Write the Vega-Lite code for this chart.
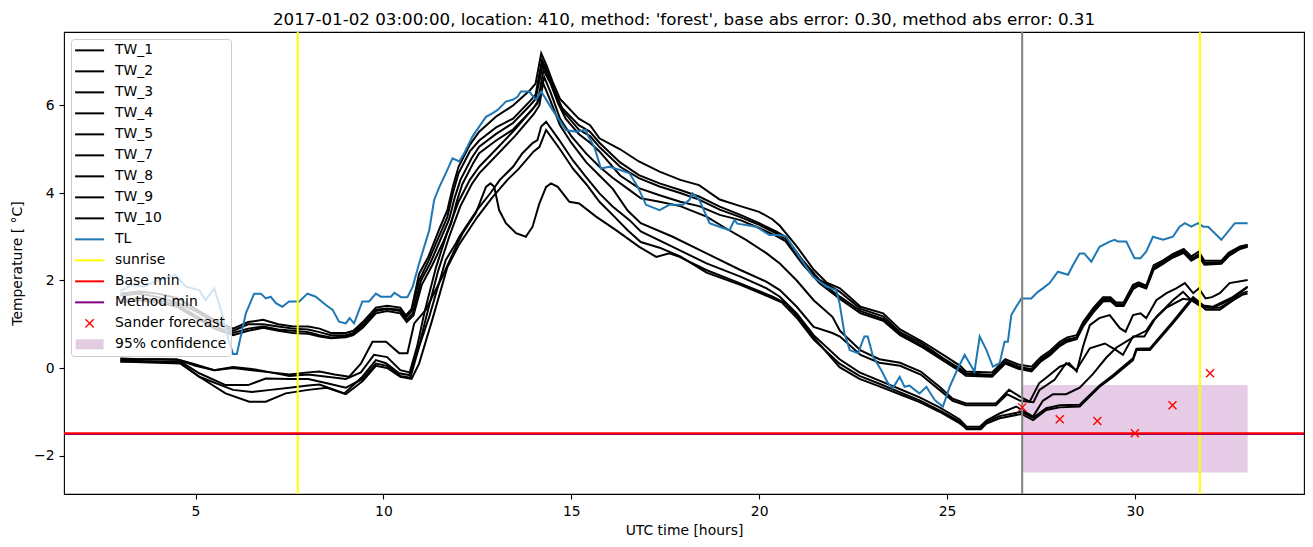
{
"$schema": "https://vega.github.io/schema/vega-lite/v6.json",
"width": 1240, "height": 462,
"autosize": {"type": "none"},
"padding": {"left": 64, "top": 32, "right": 9, "bottom": 53},
"background": "white",
"title": {"text": "2017-01-02 03:00:00, location: 410, method: 'forest', base abs error: 0.30, method abs error: 0.31", "font": "DejaVu Sans", "fontSize": 16.7, "fontWeight": "normal", "color": "black", "anchor": "middle", "frame": "group", "baseline": "alphabetic", "offset": -11},
"datasets": {
"tw": [
{"s":"TW_1","h":3,"T":1.7},{"s":"TW_1","h":3.5,"T":1.75},{"s":"TW_1","h":4,"T":1.7},{"s":"TW_1","h":4.5,"T":1.6},{"s":"TW_1","h":5,"T":1.35},{"s":"TW_1","h":5.5,"T":1.1},{"s":"TW_1","h":6,"T":0.9},{"s":"TW_1","h":6.4,"T":1.05},{"s":"TW_1","h":6.8,"T":1.1},{"s":"TW_1","h":7.2,"T":1.0},{"s":"TW_1","h":7.6,"T":0.95},{"s":"TW_1","h":8,"T":0.95},{"s":"TW_1","h":8.3,"T":0.9},{"s":"TW_1","h":8.6,"T":0.8},{"s":"TW_1","h":9,"T":0.8},{"s":"TW_1","h":9.2,"T":0.85},{"s":"TW_1","h":9.45,"T":1.05},{"s":"TW_1","h":9.8,"T":1.38},{"s":"TW_1","h":10.1,"T":1.42},{"s":"TW_1","h":10.45,"T":1.38},{"s":"TW_1","h":10.6,"T":1.2},{"s":"TW_1","h":10.75,"T":1.35},{"s":"TW_1","h":10.95,"T":2.15},{"s":"TW_1","h":11.2,"T":2.55},{"s":"TW_1","h":11.5,"T":3.2},{"s":"TW_1","h":11.7,"T":3.6},{"s":"TW_1","h":11.85,"T":4.15},{"s":"TW_1","h":12,"T":4.6},{"s":"TW_1","h":12.3,"T":5.1},{"s":"TW_1","h":12.55,"T":5.4},{"s":"TW_1","h":13,"T":5.75},{"s":"TW_1","h":13.45,"T":6.0},{"s":"TW_1","h":13.9,"T":6.35},{"s":"TW_1","h":14.05,"T":6.5},{"s":"TW_1","h":14.2,"T":7.19},{"s":"TW_1","h":14.35,"T":6.9},{"s":"TW_1","h":14.5,"T":6.55},{"s":"TW_1","h":14.7,"T":6.15},{"s":"TW_1","h":15.2,"T":5.7},{"s":"TW_1","h":15.5,"T":5.55},{"s":"TW_1","h":15.75,"T":5.25},{"s":"TW_1","h":16.3,"T":5.0},{"s":"TW_1","h":16.8,"T":4.72},{"s":"TW_1","h":17.35,"T":4.49},{"s":"TW_1","h":17.9,"T":4.3},{"s":"TW_1","h":18.4,"T":4.18},{"s":"TW_1","h":18.95,"T":3.85},{"s":"TW_1","h":19.5,"T":3.7},{"s":"TW_1","h":20,"T":3.57},{"s":"TW_1","h":20.35,"T":3.4},{"s":"TW_1","h":20.55,"T":3.25},{"s":"TW_1","h":21,"T":2.78},{"s":"TW_1","h":21.45,"T":2.25},{"s":"TW_1","h":21.8,"T":1.95},{"s":"TW_1","h":22.15,"T":1.82},{"s":"TW_1","h":22.7,"T":1.4},{"s":"TW_1","h":23.3,"T":1.25},{"s":"TW_1","h":23.75,"T":0.88},{"s":"TW_1","h":24.35,"T":0.6},{"s":"TW_1","h":24.9,"T":0.3},{"s":"TW_1","h":25.35,"T":0.05},{"s":"TW_1","h":25.5,"T":-0.08},{"s":"TW_1","h":26.2,"T":-0.1},{"s":"TW_1","h":26.55,"T":0.2},{"s":"TW_1","h":26.9,"T":0.08},{"s":"TW_1","h":27.25,"T":0.03},{"s":"TW_1","h":27.5,"T":0.25},{"s":"TW_1","h":27.75,"T":0.4},{"s":"TW_1","h":28,"T":0.6},{"s":"TW_1","h":28.2,"T":0.7},{"s":"TW_1","h":28.45,"T":0.75},{"s":"TW_1","h":28.62,"T":1.05},{"s":"TW_1","h":28.9,"T":1.38},{"s":"TW_1","h":29.15,"T":1.62},{"s":"TW_1","h":29.35,"T":1.62},{"s":"TW_1","h":29.5,"T":1.5},{"s":"TW_1","h":29.7,"T":1.5},{"s":"TW_1","h":29.95,"T":1.9},{"s":"TW_1","h":30.1,"T":1.96},{"s":"TW_1","h":30.3,"T":1.88},{"s":"TW_1","h":30.5,"T":2.35},{"s":"TW_1","h":30.75,"T":2.46},{"s":"TW_1","h":31,"T":2.6},{"s":"TW_1","h":31.3,"T":2.72},{"s":"TW_1","h":31.5,"T":2.55},{"s":"TW_1","h":31.7,"T":2.66},{"s":"TW_1","h":31.85,"T":2.45},{"s":"TW_1","h":32.3,"T":2.45},{"s":"TW_1","h":32.5,"T":2.64},{"s":"TW_1","h":32.8,"T":2.78},{"s":"TW_1","h":33,"T":2.82},
{"s":"TW_2","h":3,"T":1.65},{"s":"TW_2","h":3.5,"T":1.7},{"s":"TW_2","h":4,"T":1.62},{"s":"TW_2","h":4.5,"T":1.5},{"s":"TW_2","h":5,"T":1.3},{"s":"TW_2","h":5.5,"T":1.05},{"s":"TW_2","h":6,"T":0.85},{"s":"TW_2","h":6.4,"T":1.0},{"s":"TW_2","h":6.8,"T":1.0},{"s":"TW_2","h":7.2,"T":0.95},{"s":"TW_2","h":7.6,"T":0.9},{"s":"TW_2","h":8,"T":0.88},{"s":"TW_2","h":8.3,"T":0.82},{"s":"TW_2","h":8.6,"T":0.75},{"s":"TW_2","h":9,"T":0.75},{"s":"TW_2","h":9.2,"T":0.8},{"s":"TW_2","h":9.45,"T":1.0},{"s":"TW_2","h":9.8,"T":1.33},{"s":"TW_2","h":10.1,"T":1.36},{"s":"TW_2","h":10.45,"T":1.33},{"s":"TW_2","h":10.6,"T":1.15},{"s":"TW_2","h":10.75,"T":1.3},{"s":"TW_2","h":10.95,"T":2.0},{"s":"TW_2","h":11.2,"T":2.45},{"s":"TW_2","h":11.5,"T":3.05},{"s":"TW_2","h":11.7,"T":3.45},{"s":"TW_2","h":11.85,"T":4.0},{"s":"TW_2","h":12,"T":4.45},{"s":"TW_2","h":12.3,"T":4.95},{"s":"TW_2","h":12.55,"T":5.2},{"s":"TW_2","h":13,"T":5.5},{"s":"TW_2","h":13.45,"T":5.7},{"s":"TW_2","h":13.9,"T":6.1},{"s":"TW_2","h":14.05,"T":6.25},{"s":"TW_2","h":14.22,"T":7.04},{"s":"TW_2","h":14.38,"T":6.75},{"s":"TW_2","h":14.55,"T":6.35},{"s":"TW_2","h":14.75,"T":5.95},{"s":"TW_2","h":15.2,"T":5.55},{"s":"TW_2","h":15.5,"T":5.4},{"s":"TW_2","h":15.75,"T":5.15},{"s":"TW_2","h":16.3,"T":4.7},{"s":"TW_2","h":16.8,"T":4.41},{"s":"TW_2","h":17.35,"T":4.22},{"s":"TW_2","h":17.9,"T":4.07},{"s":"TW_2","h":18.4,"T":3.92},{"s":"TW_2","h":18.95,"T":3.69},{"s":"TW_2","h":19.5,"T":3.5},{"s":"TW_2","h":20,"T":3.31},{"s":"TW_2","h":20.45,"T":3.12},{"s":"TW_2","h":20.7,"T":3.0},{"s":"TW_2","h":21.15,"T":2.47},{"s":"TW_2","h":21.6,"T":2.02},{"s":"TW_2","h":22.15,"T":1.74},{"s":"TW_2","h":22.7,"T":1.35},{"s":"TW_2","h":23.3,"T":1.18},{"s":"TW_2","h":23.75,"T":0.82},{"s":"TW_2","h":24.35,"T":0.55},{"s":"TW_2","h":24.9,"T":0.22},{"s":"TW_2","h":25.35,"T":-0.02},{"s":"TW_2","h":25.5,"T":-0.12},{"s":"TW_2","h":26.2,"T":-0.16},{"s":"TW_2","h":26.55,"T":0.15},{"s":"TW_2","h":26.9,"T":0.03},{"s":"TW_2","h":27.25,"T":-0.03},{"s":"TW_2","h":27.5,"T":0.2},{"s":"TW_2","h":27.75,"T":0.35},{"s":"TW_2","h":28,"T":0.55},{"s":"TW_2","h":28.2,"T":0.65},{"s":"TW_2","h":28.45,"T":0.7},{"s":"TW_2","h":28.62,"T":1.0},{"s":"TW_2","h":28.9,"T":1.33},{"s":"TW_2","h":29.15,"T":1.58},{"s":"TW_2","h":29.35,"T":1.58},{"s":"TW_2","h":29.5,"T":1.46},{"s":"TW_2","h":29.7,"T":1.46},{"s":"TW_2","h":29.95,"T":1.85},{"s":"TW_2","h":30.1,"T":1.93},{"s":"TW_2","h":30.3,"T":1.85},{"s":"TW_2","h":30.5,"T":2.3},{"s":"TW_2","h":30.75,"T":2.43},{"s":"TW_2","h":31,"T":2.57},{"s":"TW_2","h":31.3,"T":2.68},{"s":"TW_2","h":31.5,"T":2.5},{"s":"TW_2","h":31.7,"T":2.6},{"s":"TW_2","h":31.85,"T":2.4},{"s":"TW_2","h":32.3,"T":2.42},{"s":"TW_2","h":32.5,"T":2.6},{"s":"TW_2","h":32.8,"T":2.76},{"s":"TW_2","h":33,"T":2.8},
{"s":"TW_3","h":3,"T":0.22},{"s":"TW_3","h":3.5,"T":0.2},{"s":"TW_3","h":4,"T":0.2},{"s":"TW_3","h":4.6,"T":0.18},{"s":"TW_3","h":5,"T":0.08},{"s":"TW_3","h":5.5,"T":-0.05},{"s":"TW_3","h":6,"T":0.0},{"s":"TW_3","h":6.5,"T":-0.05},{"s":"TW_3","h":7,"T":-0.1},{"s":"TW_3","h":7.5,"T":-0.18},{"s":"TW_3","h":8,"T":-0.15},{"s":"TW_3","h":8.5,"T":-0.2},{"s":"TW_3","h":9,"T":-0.25},{"s":"TW_3","h":9.4,"T":-0.1},{"s":"TW_3","h":9.75,"T":0.3},{"s":"TW_3","h":10.1,"T":0.25},{"s":"TW_3","h":10.45,"T":-0.05},{"s":"TW_3","h":10.7,"T":-0.1},{"s":"TW_3","h":10.9,"T":0.5},{"s":"TW_3","h":11.1,"T":1.3},{"s":"TW_3","h":11.4,"T":2.3},{"s":"TW_3","h":11.7,"T":3.1},{"s":"TW_3","h":12,"T":3.8},{"s":"TW_3","h":12.3,"T":4.3},{"s":"TW_3","h":12.55,"T":4.6},{"s":"TW_3","h":13,"T":5.0},{"s":"TW_3","h":13.5,"T":5.45},{"s":"TW_3","h":14,"T":5.95},{"s":"TW_3","h":14.15,"T":6.15},{"s":"TW_3","h":14.28,"T":6.65},{"s":"TW_3","h":14.45,"T":6.3},{"s":"TW_3","h":14.7,"T":5.7},{"s":"TW_3","h":15,"T":5.3},{"s":"TW_3","h":15.4,"T":4.9},{"s":"TW_3","h":15.75,"T":4.6},{"s":"TW_3","h":16.1,"T":4.35},{"s":"TW_3","h":16.5,"T":4.1},{"s":"TW_3","h":16.85,"T":3.88},{"s":"TW_3","h":17.35,"T":3.8},{"s":"TW_3","h":17.9,"T":3.7},{"s":"TW_3","h":18.6,"T":3.46},{"s":"TW_3","h":19.1,"T":3.2},{"s":"TW_3","h":19.65,"T":2.93},{"s":"TW_3","h":20.2,"T":2.62},{"s":"TW_3","h":20.55,"T":2.39},{"s":"TW_3","h":21,"T":2.0},{"s":"TW_3","h":21.45,"T":1.55},{"s":"TW_3","h":21.95,"T":1.17},{"s":"TW_3","h":22.15,"T":0.85},{"s":"TW_3","h":22.7,"T":0.4},{"s":"TW_3","h":23.2,"T":0.2},{"s":"TW_3","h":23.75,"T":0.12},{"s":"TW_3","h":24.3,"T":-0.08},{"s":"TW_3","h":24.8,"T":-0.43},{"s":"TW_3","h":25.15,"T":-0.7},{"s":"TW_3","h":25.5,"T":-0.81},{"s":"TW_3","h":26.3,"T":-0.81},{"s":"TW_3","h":26.65,"T":-0.5},{"s":"TW_3","h":26.95,"T":-0.66},{"s":"TW_3","h":27.2,"T":-0.77},{"s":"TW_3","h":27.45,"T":-0.35},{"s":"TW_3","h":27.73,"T":-0.16},{"s":"TW_3","h":28,"T":0.03},{"s":"TW_3","h":28.25,"T":0.11},{"s":"TW_3","h":28.45,"T":-0.08},{"s":"TW_3","h":28.62,"T":0.49},{"s":"TW_3","h":28.8,"T":0.98},{"s":"TW_3","h":29.05,"T":1.14},{"s":"TW_3","h":29.33,"T":1.21},{"s":"TW_3","h":29.6,"T":0.91},{"s":"TW_3","h":29.75,"T":0.83},{"s":"TW_3","h":29.95,"T":1.21},{"s":"TW_3","h":30.15,"T":1.25},{"s":"TW_3","h":30.3,"T":1.14},{"s":"TW_3","h":30.57,"T":1.55},{"s":"TW_3","h":30.84,"T":1.71},{"s":"TW_3","h":31.1,"T":1.82},{"s":"TW_3","h":31.33,"T":1.94},{"s":"TW_3","h":31.55,"T":1.71},{"s":"TW_3","h":31.7,"T":1.82},{"s":"TW_3","h":31.88,"T":1.59},{"s":"TW_3","h":32.05,"T":1.62},{"s":"TW_3","h":32.26,"T":1.71},{"s":"TW_3","h":32.52,"T":1.94},{"s":"TW_3","h":33,"T":2.01},
{"s":"TW_4","h":3,"T":0.18},{"s":"TW_4","h":4.6,"T":0.12},{"s":"TW_4","h":5.1,"T":-0.2},{"s":"TW_4","h":6,"T":-0.5},{"s":"TW_4","h":6.5,"T":-0.55},{"s":"TW_4","h":7,"T":-0.5},{"s":"TW_4","h":7.5,"T":-0.45},{"s":"TW_4","h":8,"T":-0.4},{"s":"TW_4","h":8.3,"T":-0.38},{"s":"TW_4","h":8.96,"T":-0.58},{"s":"TW_4","h":9.44,"T":-0.2},{"s":"TW_4","h":9.8,"T":0.18},{"s":"TW_4","h":10.07,"T":0.11},{"s":"TW_4","h":10.42,"T":-0.12},{"s":"TW_4","h":10.69,"T":-0.16},{"s":"TW_4","h":10.86,"T":0.26},{"s":"TW_4","h":11.22,"T":1.17},{"s":"TW_4","h":11.66,"T":2.47},{"s":"TW_4","h":11.93,"T":2.85},{"s":"TW_4","h":12.02,"T":3.0},{"s":"TW_4","h":12.5,"T":3.62},{"s":"TW_4","h":12.85,"T":4.0},{"s":"TW_4","h":13.1,"T":4.3},{"s":"TW_4","h":13.45,"T":4.6},{"s":"TW_4","h":13.7,"T":4.91},{"s":"TW_4","h":13.97,"T":5.14},{"s":"TW_4","h":14.1,"T":5.21},{"s":"TW_4","h":14.2,"T":5.52},{"s":"TW_4","h":14.33,"T":5.63},{"s":"TW_4","h":14.68,"T":5.21},{"s":"TW_4","h":15.04,"T":4.75},{"s":"TW_4","h":15.39,"T":4.37},{"s":"TW_4","h":15.75,"T":3.99},{"s":"TW_4","h":16.1,"T":3.69},{"s":"TW_4","h":16.55,"T":3.38},{"s":"TW_4","h":16.85,"T":3.12},{"s":"TW_4","h":17.7,"T":2.77},{"s":"TW_4","h":18.6,"T":2.39},{"s":"TW_4","h":19.5,"T":2.09},{"s":"TW_4","h":20.2,"T":1.82},{"s":"TW_4","h":20.55,"T":1.63},{"s":"TW_4","h":21,"T":1.25},{"s":"TW_4","h":21.45,"T":0.75},{"s":"TW_4","h":22.14,"T":0.2},{"s":"TW_4","h":22.67,"T":-0.1},{"s":"TW_4","h":23.2,"T":-0.29},{"s":"TW_4","h":23.74,"T":-0.48},{"s":"TW_4","h":24.27,"T":-0.67},{"s":"TW_4","h":24.8,"T":-0.9},{"s":"TW_4","h":25.33,"T":-1.17},{"s":"TW_4","h":25.52,"T":-1.34},{"s":"TW_4","h":25.87,"T":-1.34},{"s":"TW_4","h":26.05,"T":-1.2},{"s":"TW_4","h":26.4,"T":-1.04},{"s":"TW_4","h":26.84,"T":-0.88},{"s":"TW_4","h":27.29,"T":-1.11},{"s":"TW_4","h":27.55,"T":-0.75},{"s":"TW_4","h":27.82,"T":-0.6},{"s":"TW_4","h":28.17,"T":-0.6},{"s":"TW_4","h":28.53,"T":-0.45},{"s":"TW_4","h":28.88,"T":-0.14},{"s":"TW_4","h":29.24,"T":0.24},{"s":"TW_4","h":29.51,"T":0.47},{"s":"TW_4","h":29.95,"T":0.7},{"s":"TW_4","h":30.3,"T":0.85},{"s":"TW_4","h":30.48,"T":1.08},{"s":"TW_4","h":30.84,"T":1.38},{"s":"TW_4","h":31.28,"T":1.58},{"s":"TW_4","h":31.55,"T":1.55},{"s":"TW_4","h":31.73,"T":1.42},{"s":"TW_4","h":32.08,"T":1.38},{"s":"TW_4","h":32.6,"T":1.58},{"s":"TW_4","h":33,"T":1.85},
{"s":"TW_5","h":3,"T":1.55},{"s":"TW_5","h":3.5,"T":1.6},{"s":"TW_5","h":4,"T":1.55},{"s":"TW_5","h":4.5,"T":1.45},{"s":"TW_5","h":5,"T":1.2},{"s":"TW_5","h":5.5,"T":0.95},{"s":"TW_5","h":6,"T":0.8},{"s":"TW_5","h":6.4,"T":0.9},{"s":"TW_5","h":6.8,"T":0.95},{"s":"TW_5","h":7.2,"T":0.88},{"s":"TW_5","h":7.6,"T":0.85},{"s":"TW_5","h":8,"T":0.82},{"s":"TW_5","h":8.3,"T":0.75},{"s":"TW_5","h":8.6,"T":0.7},{"s":"TW_5","h":9,"T":0.72},{"s":"TW_5","h":9.2,"T":0.78},{"s":"TW_5","h":9.45,"T":0.95},{"s":"TW_5","h":9.8,"T":1.3},{"s":"TW_5","h":10.1,"T":1.35},{"s":"TW_5","h":10.45,"T":1.3},{"s":"TW_5","h":10.62,"T":1.1},{"s":"TW_5","h":10.78,"T":1.25},{"s":"TW_5","h":11,"T":2.0},{"s":"TW_5","h":11.25,"T":2.4},{"s":"TW_5","h":11.55,"T":3.0},{"s":"TW_5","h":11.75,"T":3.4},{"s":"TW_5","h":11.9,"T":3.9},{"s":"TW_5","h":12.05,"T":4.3},{"s":"TW_5","h":12.35,"T":4.8},{"s":"TW_5","h":12.55,"T":5.06},{"s":"TW_5","h":13,"T":5.35},{"s":"TW_5","h":13.45,"T":5.6},{"s":"TW_5","h":13.9,"T":6.0},{"s":"TW_5","h":14.05,"T":6.15},{"s":"TW_5","h":14.24,"T":6.93},{"s":"TW_5","h":14.4,"T":6.65},{"s":"TW_5","h":14.6,"T":6.2},{"s":"TW_5","h":14.8,"T":5.85},{"s":"TW_5","h":15.2,"T":5.45},{"s":"TW_5","h":15.5,"T":5.3},{"s":"TW_5","h":15.75,"T":5.05},{"s":"TW_5","h":16.3,"T":4.6},{"s":"TW_5","h":16.8,"T":4.34},{"s":"TW_5","h":17.35,"T":4.15},{"s":"TW_5","h":17.9,"T":4.0},{"s":"TW_5","h":18.4,"T":3.85},{"s":"TW_5","h":18.95,"T":3.62},{"s":"TW_5","h":19.5,"T":3.45},{"s":"TW_5","h":20,"T":3.27},{"s":"TW_5","h":20.45,"T":3.08},{"s":"TW_5","h":20.7,"T":2.95},{"s":"TW_5","h":21.15,"T":2.42},{"s":"TW_5","h":21.6,"T":1.98},{"s":"TW_5","h":22.15,"T":1.63},{"s":"TW_5","h":22.7,"T":1.3},{"s":"TW_5","h":23.3,"T":1.12},{"s":"TW_5","h":23.75,"T":0.78},{"s":"TW_5","h":24.35,"T":0.5},{"s":"TW_5","h":24.9,"T":0.2},{"s":"TW_5","h":25.35,"T":-0.05},{"s":"TW_5","h":25.5,"T":-0.15},{"s":"TW_5","h":26.2,"T":-0.18},{"s":"TW_5","h":26.55,"T":0.12},{"s":"TW_5","h":26.9,"T":0.0},{"s":"TW_5","h":27.25,"T":-0.05},{"s":"TW_5","h":27.5,"T":0.18},{"s":"TW_5","h":27.75,"T":0.33},{"s":"TW_5","h":28,"T":0.52},{"s":"TW_5","h":28.2,"T":0.62},{"s":"TW_5","h":28.45,"T":0.68},{"s":"TW_5","h":28.62,"T":0.98},{"s":"TW_5","h":28.9,"T":1.3},{"s":"TW_5","h":29.15,"T":1.55},{"s":"TW_5","h":29.35,"T":1.55},{"s":"TW_5","h":29.5,"T":1.45},{"s":"TW_5","h":29.7,"T":1.44},{"s":"TW_5","h":29.95,"T":1.82},{"s":"TW_5","h":30.1,"T":1.9},{"s":"TW_5","h":30.3,"T":1.84},{"s":"TW_5","h":30.5,"T":2.28},{"s":"TW_5","h":30.75,"T":2.4},{"s":"TW_5","h":31,"T":2.55},{"s":"TW_5","h":31.3,"T":2.65},{"s":"TW_5","h":31.5,"T":2.48},{"s":"TW_5","h":31.7,"T":2.58},{"s":"TW_5","h":31.85,"T":2.38},{"s":"TW_5","h":32.3,"T":2.4},{"s":"TW_5","h":32.5,"T":2.58},{"s":"TW_5","h":32.8,"T":2.74},{"s":"TW_5","h":33,"T":2.78},
{"s":"TW_7","h":3,"T":0.15},{"s":"TW_7","h":4.6,"T":0.15},{"s":"TW_7","h":5.1,"T":-0.12},{"s":"TW_7","h":5.8,"T":-0.39},{"s":"TW_7","h":6.4,"T":-0.39},{"s":"TW_7","h":6.87,"T":-0.24},{"s":"TW_7","h":7.5,"T":-0.25},{"s":"TW_7","h":8,"T":-0.25},{"s":"TW_7","h":8.5,"T":-0.35},{"s":"TW_7","h":9,"T":-0.45},{"s":"TW_7","h":9.45,"T":-0.25},{"s":"TW_7","h":9.8,"T":0.1},{"s":"TW_7","h":10.1,"T":0.05},{"s":"TW_7","h":10.45,"T":-0.18},{"s":"TW_7","h":10.72,"T":-0.22},{"s":"TW_7","h":10.92,"T":0.4},{"s":"TW_7","h":11.15,"T":1.2},{"s":"TW_7","h":11.45,"T":2.2},{"s":"TW_7","h":11.75,"T":3.0},{"s":"TW_7","h":12.05,"T":3.7},{"s":"TW_7","h":12.35,"T":4.2},{"s":"TW_7","h":12.55,"T":4.45},{"s":"TW_7","h":13,"T":4.85},{"s":"TW_7","h":13.5,"T":5.3},{"s":"TW_7","h":14,"T":5.8},{"s":"TW_7","h":14.15,"T":6.0},{"s":"TW_7","h":14.25,"T":6.51},{"s":"TW_7","h":14.45,"T":6.1},{"s":"TW_7","h":14.7,"T":5.55},{"s":"TW_7","h":15,"T":5.15},{"s":"TW_7","h":15.4,"T":4.7},{"s":"TW_7","h":15.75,"T":4.4},{"s":"TW_7","h":16.1,"T":4.1},{"s":"TW_7","h":16.5,"T":3.6},{"s":"TW_7","h":16.85,"T":3.31},{"s":"TW_7","h":17.7,"T":3.0},{"s":"TW_7","h":18.6,"T":2.62},{"s":"TW_7","h":19.5,"T":2.24},{"s":"TW_7","h":20.2,"T":1.97},{"s":"TW_7","h":20.55,"T":1.78},{"s":"TW_7","h":21,"T":1.4},{"s":"TW_7","h":21.45,"T":0.94},{"s":"TW_7","h":21.95,"T":0.8},{"s":"TW_7","h":22.15,"T":0.72},{"s":"TW_7","h":22.7,"T":0.3},{"s":"TW_7","h":23.2,"T":0.12},{"s":"TW_7","h":23.75,"T":0.05},{"s":"TW_7","h":24.3,"T":-0.15},{"s":"TW_7","h":24.8,"T":-0.5},{"s":"TW_7","h":25.15,"T":-0.75},{"s":"TW_7","h":25.5,"T":-0.85},{"s":"TW_7","h":26.3,"T":-0.85},{"s":"TW_7","h":26.6,"T":-0.6},{"s":"TW_7","h":26.95,"T":-0.75},{"s":"TW_7","h":27.3,"T":-0.78},{"s":"TW_7","h":27.46,"T":-0.5},{"s":"TW_7","h":27.86,"T":-0.27},{"s":"TW_7","h":28.17,"T":0.11},{"s":"TW_7","h":28.44,"T":-0.05},{"s":"TW_7","h":28.8,"T":0.45},{"s":"TW_7","h":29.2,"T":0.56},{"s":"TW_7","h":29.5,"T":0.41},{"s":"TW_7","h":29.68,"T":0.3},{"s":"TW_7","h":29.95,"T":0.72},{"s":"TW_7","h":30.25,"T":0.72},{"s":"TW_7","h":30.57,"T":1.17},{"s":"TW_7","h":30.84,"T":1.4},{"s":"TW_7","h":31.01,"T":1.55},{"s":"TW_7","h":31.28,"T":1.74},{"s":"TW_7","h":31.5,"T":1.55},{"s":"TW_7","h":31.7,"T":1.44},{"s":"TW_7","h":32.08,"T":1.4},{"s":"TW_7","h":32.6,"T":1.62},{"s":"TW_7","h":33,"T":1.86},
{"s":"TW_8","h":3,"T":0.15},{"s":"TW_8","h":4.6,"T":0.1},{"s":"TW_8","h":5.1,"T":-0.2},{"s":"TW_8","h":5.8,"T":-0.58},{"s":"TW_8","h":6.43,"T":-0.77},{"s":"TW_8","h":6.87,"T":-0.77},{"s":"TW_8","h":7.4,"T":-0.58},{"s":"TW_8","h":8,"T":-0.5},{"s":"TW_8","h":8.5,"T":-0.45},{"s":"TW_8","h":9,"T":-0.6},{"s":"TW_8","h":9.45,"T":-0.3},{"s":"TW_8","h":9.8,"T":0.05},{"s":"TW_8","h":10.1,"T":0.0},{"s":"TW_8","h":10.45,"T":-0.2},{"s":"TW_8","h":10.75,"T":-0.25},{"s":"TW_8","h":10.95,"T":0.1},{"s":"TW_8","h":11.3,"T":1.1},{"s":"TW_8","h":11.7,"T":2.3},{"s":"TW_8","h":12,"T":2.8},{"s":"TW_8","h":12.5,"T":3.45},{"s":"TW_8","h":12.9,"T":3.9},{"s":"TW_8","h":13.3,"T":4.3},{"s":"TW_8","h":13.6,"T":4.55},{"s":"TW_8","h":14,"T":4.95},{"s":"TW_8","h":14.15,"T":5.05},{"s":"TW_8","h":14.33,"T":5.44},{"s":"TW_8","h":14.7,"T":5.0},{"s":"TW_8","h":15.05,"T":4.55},{"s":"TW_8","h":15.4,"T":4.2},{"s":"TW_8","h":15.75,"T":3.8},{"s":"TW_8","h":16.1,"T":3.5},{"s":"TW_8","h":16.5,"T":3.15},{"s":"TW_8","h":16.85,"T":2.88},{"s":"TW_8","h":17.35,"T":2.75},{"s":"TW_8","h":17.9,"T":2.55},{"s":"TW_8","h":18.6,"T":2.18},{"s":"TW_8","h":19.5,"T":1.9},{"s":"TW_8","h":20.2,"T":1.65},{"s":"TW_8","h":20.6,"T":1.5},{"s":"TW_8","h":21,"T":1.15},{"s":"TW_8","h":21.45,"T":0.65},{"s":"TW_8","h":22.14,"T":0.1},{"s":"TW_8","h":22.67,"T":-0.18},{"s":"TW_8","h":23.2,"T":-0.36},{"s":"TW_8","h":23.74,"T":-0.55},{"s":"TW_8","h":24.27,"T":-0.74},{"s":"TW_8","h":24.8,"T":-0.97},{"s":"TW_8","h":25.33,"T":-1.22},{"s":"TW_8","h":25.52,"T":-1.4},{"s":"TW_8","h":25.9,"T":-1.4},{"s":"TW_8","h":26.05,"T":-1.27},{"s":"TW_8","h":26.4,"T":-1.15},{"s":"TW_8","h":26.98,"T":-1.05},{"s":"TW_8","h":27.29,"T":-1.19},{"s":"TW_8","h":27.64,"T":-0.96},{"s":"TW_8","h":28,"T":-0.9},{"s":"TW_8","h":28.53,"T":-0.88},{"s":"TW_8","h":29.06,"T":-0.43},{"s":"TW_8","h":29.42,"T":-0.2},{"s":"TW_8","h":29.95,"T":0.18},{"s":"TW_8","h":30.04,"T":0.41},{"s":"TW_8","h":30.4,"T":0.41},{"s":"TW_8","h":31.01,"T":1.02},{"s":"TW_8","h":31.37,"T":1.4},{"s":"TW_8","h":31.55,"T":1.59},{"s":"TW_8","h":31.89,"T":1.33},{"s":"TW_8","h":32.26,"T":1.33},{"s":"TW_8","h":32.88,"T":1.71},{"s":"TW_8","h":33,"T":1.75},
{"s":"TW_9","h":3,"T":1.5},{"s":"TW_9","h":3.5,"T":1.55},{"s":"TW_9","h":4,"T":1.5},{"s":"TW_9","h":4.5,"T":1.4},{"s":"TW_9","h":5,"T":1.15},{"s":"TW_9","h":5.5,"T":0.9},{"s":"TW_9","h":6,"T":0.75},{"s":"TW_9","h":6.4,"T":0.85},{"s":"TW_9","h":6.8,"T":0.92},{"s":"TW_9","h":7.2,"T":0.85},{"s":"TW_9","h":7.6,"T":0.8},{"s":"TW_9","h":8,"T":0.78},{"s":"TW_9","h":8.3,"T":0.72},{"s":"TW_9","h":8.6,"T":0.68},{"s":"TW_9","h":9,"T":0.7},{"s":"TW_9","h":9.2,"T":0.75},{"s":"TW_9","h":9.45,"T":0.92},{"s":"TW_9","h":9.8,"T":1.25},{"s":"TW_9","h":10.1,"T":1.3},{"s":"TW_9","h":10.45,"T":1.25},{"s":"TW_9","h":10.62,"T":1.05},{"s":"TW_9","h":10.8,"T":1.2},{"s":"TW_9","h":11.02,"T":1.9},{"s":"TW_9","h":11.3,"T":2.35},{"s":"TW_9","h":11.6,"T":2.9},{"s":"TW_9","h":11.8,"T":3.3},{"s":"TW_9","h":11.95,"T":3.8},{"s":"TW_9","h":12.1,"T":4.2},{"s":"TW_9","h":12.4,"T":4.7},{"s":"TW_9","h":12.55,"T":4.91},{"s":"TW_9","h":13,"T":5.2},{"s":"TW_9","h":13.45,"T":5.45},{"s":"TW_9","h":13.9,"T":5.85},{"s":"TW_9","h":14.1,"T":6.05},{"s":"TW_9","h":14.26,"T":6.81},{"s":"TW_9","h":14.45,"T":6.5},{"s":"TW_9","h":14.65,"T":6.05},{"s":"TW_9","h":14.85,"T":5.7},{"s":"TW_9","h":15.2,"T":5.35},{"s":"TW_9","h":15.5,"T":5.15},{"s":"TW_9","h":15.75,"T":4.95},{"s":"TW_9","h":16.3,"T":4.4},{"s":"TW_9","h":16.8,"T":4.11},{"s":"TW_9","h":17.35,"T":3.95},{"s":"TW_9","h":17.9,"T":3.8},{"s":"TW_9","h":18.4,"T":3.7},{"s":"TW_9","h":18.95,"T":3.5},{"s":"TW_9","h":19.5,"T":3.38},{"s":"TW_9","h":20,"T":3.2},{"s":"TW_9","h":20.45,"T":3.02},{"s":"TW_9","h":20.7,"T":2.9},{"s":"TW_9","h":21.15,"T":2.38},{"s":"TW_9","h":21.6,"T":1.94},{"s":"TW_9","h":22.15,"T":1.58},{"s":"TW_9","h":22.7,"T":1.25},{"s":"TW_9","h":23.3,"T":1.08},{"s":"TW_9","h":23.75,"T":0.75},{"s":"TW_9","h":24.35,"T":0.47},{"s":"TW_9","h":24.9,"T":0.17},{"s":"TW_9","h":25.35,"T":-0.08},{"s":"TW_9","h":25.5,"T":-0.18},{"s":"TW_9","h":26.2,"T":-0.2},{"s":"TW_9","h":26.55,"T":0.1},{"s":"TW_9","h":26.9,"T":-0.02},{"s":"TW_9","h":27.25,"T":-0.08},{"s":"TW_9","h":27.5,"T":0.15},{"s":"TW_9","h":27.75,"T":0.3},{"s":"TW_9","h":28,"T":0.5},{"s":"TW_9","h":28.2,"T":0.6},{"s":"TW_9","h":28.45,"T":0.66},{"s":"TW_9","h":28.62,"T":0.95},{"s":"TW_9","h":28.9,"T":1.28},{"s":"TW_9","h":29.15,"T":1.52},{"s":"TW_9","h":29.35,"T":1.53},{"s":"TW_9","h":29.5,"T":1.42},{"s":"TW_9","h":29.7,"T":1.42},{"s":"TW_9","h":29.95,"T":1.8},{"s":"TW_9","h":30.1,"T":1.88},{"s":"TW_9","h":30.3,"T":1.82},{"s":"TW_9","h":30.5,"T":2.25},{"s":"TW_9","h":30.75,"T":2.38},{"s":"TW_9","h":31,"T":2.52},{"s":"TW_9","h":31.3,"T":2.63},{"s":"TW_9","h":31.5,"T":2.45},{"s":"TW_9","h":31.7,"T":2.55},{"s":"TW_9","h":31.85,"T":2.36},{"s":"TW_9","h":32.3,"T":2.38},{"s":"TW_9","h":32.5,"T":2.56},{"s":"TW_9","h":32.8,"T":2.72},{"s":"TW_9","h":33,"T":2.77},
{"s":"TW_10","h":3,"T":0.2},{"s":"TW_10","h":4.5,"T":0.2},{"s":"TW_10","h":5,"T":0.05},{"s":"TW_10","h":5.5,"T":-0.05},{"s":"TW_10","h":6,"T":0.02},{"s":"TW_10","h":6.5,"T":-0.02},{"s":"TW_10","h":7,"T":-0.1},{"s":"TW_10","h":7.5,"T":-0.15},{"s":"TW_10","h":8,"T":-0.1},{"s":"TW_10","h":8.3,"T":-0.08},{"s":"TW_10","h":8.7,"T":-0.15},{"s":"TW_10","h":9.09,"T":-0.2},{"s":"TW_10","h":9.4,"T":0.1},{"s":"TW_10","h":9.71,"T":0.6},{"s":"TW_10","h":10.07,"T":0.6},{"s":"TW_10","h":10.42,"T":0.34},{"s":"TW_10","h":10.64,"T":0.34},{"s":"TW_10","h":10.82,"T":1.02},{"s":"TW_10","h":11.13,"T":1.33},{"s":"TW_10","h":11.57,"T":2.09},{"s":"TW_10","h":11.93,"T":2.77},{"s":"TW_10","h":12.11,"T":3.08},{"s":"TW_10","h":12.46,"T":3.54},{"s":"TW_10","h":12.73,"T":4.14},{"s":"TW_10","h":12.85,"T":4.22},{"s":"TW_10","h":12.95,"T":4.14},{"s":"TW_10","h":13.08,"T":3.61},{"s":"TW_10","h":13.26,"T":3.31},{"s":"TW_10","h":13.53,"T":3.08},{"s":"TW_10","h":13.79,"T":3.0},{"s":"TW_10","h":13.97,"T":3.23},{"s":"TW_10","h":14.15,"T":3.76},{"s":"TW_10","h":14.33,"T":4.14},{"s":"TW_10","h":14.46,"T":4.22},{"s":"TW_10","h":14.64,"T":4.14},{"s":"TW_10","h":14.95,"T":3.8},{"s":"TW_10","h":15.21,"T":3.76},{"s":"TW_10","h":15.66,"T":3.46},{"s":"TW_10","h":16.19,"T":3.15},{"s":"TW_10","h":16.81,"T":2.77},{"s":"TW_10","h":17.26,"T":2.54},{"s":"TW_10","h":17.61,"T":2.62},{"s":"TW_10","h":17.88,"T":2.54},{"s":"TW_10","h":18.59,"T":2.24},{"s":"TW_10","h":19.48,"T":1.94},{"s":"TW_10","h":20.36,"T":1.63},{"s":"TW_10","h":20.7,"T":1.48},{"s":"TW_10","h":21,"T":1.2},{"s":"TW_10","h":21.45,"T":0.7},{"s":"TW_10","h":22.14,"T":0.02},{"s":"TW_10","h":22.67,"T":-0.25},{"s":"TW_10","h":23.2,"T":-0.42},{"s":"TW_10","h":23.74,"T":-0.6},{"s":"TW_10","h":24.27,"T":-0.78},{"s":"TW_10","h":24.8,"T":-1.0},{"s":"TW_10","h":25.33,"T":-1.26},{"s":"TW_10","h":25.52,"T":-1.38},{"s":"TW_10","h":25.87,"T":-1.38},{"s":"TW_10","h":26.05,"T":-1.23},{"s":"TW_10","h":26.4,"T":-1.1},{"s":"TW_10","h":26.98,"T":-1.0},{"s":"TW_10","h":27.29,"T":-1.14},{"s":"TW_10","h":27.64,"T":-0.92},{"s":"TW_10","h":28,"T":-0.85},{"s":"TW_10","h":28.53,"T":-0.84},{"s":"TW_10","h":29.06,"T":-0.4},{"s":"TW_10","h":29.42,"T":-0.16},{"s":"TW_10","h":29.95,"T":0.22},{"s":"TW_10","h":30.04,"T":0.44},{"s":"TW_10","h":30.4,"T":0.45},{"s":"TW_10","h":31.01,"T":1.06},{"s":"TW_10","h":31.37,"T":1.44},{"s":"TW_10","h":31.55,"T":1.62},{"s":"TW_10","h":31.89,"T":1.38},{"s":"TW_10","h":32.26,"T":1.38},{"s":"TW_10","h":32.88,"T":1.68},{"s":"TW_10","h":33,"T":1.7},
{"s":"TL","h":3,"T":1.75},{"s":"TL","h":3.3,"T":1.9},{"s":"TL","h":3.6,"T":1.86},{"s":"TL","h":4,"T":2.0},{"s":"TL","h":4.47,"T":2.13},{"s":"TL","h":4.74,"T":1.86},{"s":"TL","h":5.1,"T":1.78},{"s":"TL","h":5.27,"T":1.55},{"s":"TL","h":5.5,"T":1.82},{"s":"TL","h":5.7,"T":1.26},{"s":"TL","h":5.85,"T":0.72},{"s":"TL","h":6,"T":0.32},{"s":"TL","h":6.1,"T":0.32},{"s":"TL","h":6.34,"T":1.25},{"s":"TL","h":6.56,"T":1.7},{"s":"TL","h":6.74,"T":1.7},{"s":"TL","h":6.87,"T":1.59},{"s":"TL","h":7,"T":1.63},{"s":"TL","h":7.14,"T":1.48},{"s":"TL","h":7.31,"T":1.4},{"s":"TL","h":7.49,"T":1.52},{"s":"TL","h":7.76,"T":1.52},{"s":"TL","h":7.98,"T":1.7},{"s":"TL","h":8.2,"T":1.63},{"s":"TL","h":8.47,"T":1.44},{"s":"TL","h":8.65,"T":1.33},{"s":"TL","h":8.82,"T":1.06},{"s":"TL","h":9,"T":1.02},{"s":"TL","h":9.1,"T":1.14},{"s":"TL","h":9.22,"T":1.02},{"s":"TL","h":9.44,"T":1.52},{"s":"TL","h":9.62,"T":1.52},{"s":"TL","h":9.8,"T":1.7},{"s":"TL","h":9.93,"T":1.63},{"s":"TL","h":10.2,"T":1.63},{"s":"TL","h":10.29,"T":1.72},{"s":"TL","h":10.47,"T":1.62},{"s":"TL","h":10.64,"T":1.62},{"s":"TL","h":10.78,"T":1.86},{"s":"TL","h":10.95,"T":2.39},{"s":"TL","h":11.22,"T":3.15},{"s":"TL","h":11.35,"T":3.84},{"s":"TL","h":11.49,"T":4.14},{"s":"TL","h":11.66,"T":4.45},{"s":"TL","h":11.84,"T":4.79},{"s":"TL","h":12.02,"T":4.72},{"s":"TL","h":12.15,"T":4.91},{"s":"TL","h":12.37,"T":5.29},{"s":"TL","h":12.64,"T":5.63},{"s":"TL","h":12.73,"T":5.74},{"s":"TL","h":12.9,"T":5.82},{"s":"TL","h":13.04,"T":5.9},{"s":"TL","h":13.26,"T":6.09},{"s":"TL","h":13.44,"T":6.13},{"s":"TL","h":13.57,"T":6.2},{"s":"TL","h":13.66,"T":6.32},{"s":"TL","h":13.88,"T":6.32},{"s":"TL","h":14.06,"T":6.13},{"s":"TL","h":14.2,"T":6.32},{"s":"TL","h":14.5,"T":5.9},{"s":"TL","h":14.86,"T":5.44},{"s":"TL","h":15.13,"T":5.4},{"s":"TL","h":15.39,"T":5.44},{"s":"TL","h":15.45,"T":5.3},{"s":"TL","h":15.61,"T":5.06},{"s":"TL","h":15.79,"T":4.56},{"s":"TL","h":16.01,"T":4.6},{"s":"TL","h":16.28,"T":4.53},{"s":"TL","h":16.55,"T":4.45},{"s":"TL","h":16.77,"T":4.14},{"s":"TL","h":16.99,"T":3.73},{"s":"TL","h":17.35,"T":3.61},{"s":"TL","h":17.61,"T":3.73},{"s":"TL","h":17.97,"T":3.73},{"s":"TL","h":18.14,"T":3.84},{"s":"TL","h":18.23,"T":3.99},{"s":"TL","h":18.41,"T":3.84},{"s":"TL","h":18.68,"T":3.31},{"s":"TL","h":18.94,"T":3.23},{"s":"TL","h":19.21,"T":3.15},{"s":"TL","h":19.34,"T":3.38},{"s":"TL","h":19.42,"T":3.3},{"s":"TL","h":19.65,"T":3.27},{"s":"TL","h":19.92,"T":3.23},{"s":"TL","h":20.27,"T":3.04},{"s":"TL","h":20.54,"T":3.04},{"s":"TL","h":20.72,"T":3.0},{"s":"TL","h":21.07,"T":2.54},{"s":"TL","h":21.43,"T":2.09},{"s":"TL","h":21.79,"T":1.86},{"s":"TL","h":22.05,"T":1.78},{"s":"TL","h":22.14,"T":1.48},{"s":"TL","h":22.27,"T":0.79},{"s":"TL","h":22.41,"T":0.41},{"s":"TL","h":22.63,"T":0.34},{"s":"TL","h":22.8,"T":0.72},{"s":"TL","h":22.89,"T":0.72},{"s":"TL","h":23.03,"T":0.26},{"s":"TL","h":23.25,"T":-0.05},{"s":"TL","h":23.43,"T":-0.35},{"s":"TL","h":23.56,"T":-0.46},{"s":"TL","h":23.74,"T":-0.2},{"s":"TL","h":23.87,"T":-0.43},{"s":"TL","h":24,"T":-0.4},{"s":"TL","h":24.14,"T":-0.5},{"s":"TL","h":24.27,"T":-0.58},{"s":"TL","h":24.45,"T":-0.43},{"s":"TL","h":24.67,"T":-0.73},{"s":"TL","h":24.89,"T":-0.88},{"s":"TL","h":25.07,"T":-0.43},{"s":"TL","h":25.25,"T":-0.08},{"s":"TL","h":25.47,"T":0.3},{"s":"TL","h":25.6,"T":0.11},{"s":"TL","h":25.73,"T":-0.08},{"s":"TL","h":25.87,"T":0.72},{"s":"TL","h":26.05,"T":0.41},{"s":"TL","h":26.22,"T":0.03},{"s":"TL","h":26.4,"T":0.11},{"s":"TL","h":26.53,"T":0.6},{"s":"TL","h":26.62,"T":0.6},{"s":"TL","h":26.71,"T":1.21},{"s":"TL","h":26.84,"T":1.4},{"s":"TL","h":26.98,"T":1.59},{"s":"TL","h":27.24,"T":1.59},{"s":"TL","h":27.42,"T":1.74},{"s":"TL","h":27.55,"T":1.82},{"s":"TL","h":27.73,"T":1.94},{"s":"TL","h":27.95,"T":2.2},{"s":"TL","h":28.22,"T":2.13},{"s":"TL","h":28.35,"T":2.35},{"s":"TL","h":28.53,"T":2.62},{"s":"TL","h":28.65,"T":2.62},{"s":"TL","h":28.84,"T":2.43},{"s":"TL","h":29.06,"T":2.77},{"s":"TL","h":29.33,"T":2.89},{"s":"TL","h":29.46,"T":2.93},{"s":"TL","h":29.55,"T":2.89},{"s":"TL","h":29.77,"T":2.89},{"s":"TL","h":29.99,"T":2.51},{"s":"TL","h":30.15,"T":2.51},{"s":"TL","h":30.3,"T":2.66},{"s":"TL","h":30.48,"T":3.0},{"s":"TL","h":30.75,"T":2.93},{"s":"TL","h":31.01,"T":3.0},{"s":"TL","h":31.19,"T":3.23},{"s":"TL","h":31.33,"T":3.31},{"s":"TL","h":31.5,"T":3.23},{"s":"TL","h":31.68,"T":3.31},{"s":"TL","h":31.82,"T":3.23},{"s":"TL","h":31.95,"T":3.23},{"s":"TL","h":32.3,"T":2.93},{"s":"TL","h":32.66,"T":3.31},{"s":"TL","h":33,"T":3.31}
],
"conf": [{"h":27,"h2":33,"T":-2.39,"T2":-0.39}],
"sunrise": [{"h":7.72},{"h":31.73}],
"now": [{"h":27}],
"basemin": [{"T":-1.49}],
"methodmin": [{"T":-1.51}],
"sander": [{"h":27,"T":-0.9},{"h":28,"T":-1.17},{"h":29,"T":-1.21},{"h":30,"T":-1.49},{"h":31,"T":-0.85},{"h":32,"T":-0.12}]
},
"layer": [
{"data":{"name":"conf"},"mark":{"type":"rect","color":"purple","opacity":0.2},
 "encoding":{"x":{"field":"h","type":"quantitative","scale":{"domain":[1.5,34.5],"nice":false,"zero":false},"axis":{"values":[5,10,15,20,25,30]},"title":"UTC time [hours]"},"x2":{"field":"h2"},
 "y":{"field":"T","type":"quantitative","scale":{"domain":[-2.88,7.68],"nice":false,"zero":false},"axis":{"values":[-2,0,2,4,6]},"title":"Temperature [ °C]"},"y2":{"field":"T2"}}},
{"data":{"name":"tw"},"mark":{"type":"line","strokeWidth":2,"interpolate":"linear"},
 "encoding":{"x":{"field":"h","type":"quantitative","scale":{"domain":[1.5,34.5],"nice":false,"zero":false},"axis":{"values":[5,10,15,20,25,30]},"title":"UTC time [hours]"},
 "y":{"field":"T","type":"quantitative","scale":{"domain":[-2.88,7.68],"nice":false,"zero":false},"axis":{"values":[-2,0,2,4,6]},"title":"Temperature [ °C]"},
 "color":{"field":"s","type":"nominal","scale":{"domain":["TW_1","TW_2","TW_3","TW_4","TW_5","TW_7","TW_8","TW_9","TW_10","TL","sunrise","Base min","Method min","Sander forecast","95% confidence"],"range":["black","black","black","black","black","black","black","black","black","#1f77b4","yellow","red","purple","red","#e2cce2"]},
  "legend":{"title":null,"orient":"top-left","offset":7,"padding":4.4,"fillColor":"rgba(255,255,255,0.8)","strokeColor":"#cccccc","cornerRadius":3,"rowPadding":6,"symbolSize":210,"symbolType":"M-2,0H2","symbolOffset":7.25,"symbolStrokeWidth":2,"labelOffset":18.5,"labelFont":"DejaVu Sans","labelFontSize":13.9,"labelColor":"black","labelLimit":400,
   "encode":{"symbols":{"update":{"shape":{"signal":"datum.value === 'Sander forecast' ? 'M-0.57,-0.57L0.57,0.57M-0.57,0.57L0.57,-0.57' : datum.value === '95% confidence' ? 'M-1.93,-0.69H1.93V0.69H-1.93Z' : 'M-2,0H2'"},"fill":{"signal":"datum.value === '95% confidence' ? '#e2cce2' : 'transparent'"},"strokeWidth":{"signal":"datum.value === '95% confidence' ? 0 : datum.value === 'Sander forecast' ? 1.4 : 2"}}}}}},
  "detail":{"field":"s"}}},
{"data":{"name":"sunrise"},"mark":{"type":"rule","color":"yellow","strokeWidth":2},
 "encoding":{"x":{"field":"h","type":"quantitative","scale":{"domain":[1.5,34.5],"nice":false,"zero":false},"axis":{"values":[5,10,15,20,25,30]},"title":"UTC time [hours]"}}},
{"data":{"name":"now"},"mark":{"type":"rule","color":"gray","strokeWidth":2},
 "encoding":{"x":{"field":"h","type":"quantitative","scale":{"domain":[1.5,34.5],"nice":false,"zero":false},"axis":{"values":[5,10,15,20,25,30]},"title":"UTC time [hours]"}}},
{"data":{"name":"methodmin"},"mark":{"type":"rule","color":"purple","strokeWidth":2},
 "encoding":{"y":{"field":"T","type":"quantitative","scale":{"domain":[-2.88,7.68],"nice":false,"zero":false},"axis":{"values":[-2,0,2,4,6]},"title":"Temperature [ °C]"}}},
{"data":{"name":"basemin"},"mark":{"type":"rule","color":"red","strokeWidth":2},
 "encoding":{"y":{"field":"T","type":"quantitative","scale":{"domain":[-2.88,7.68],"nice":false,"zero":false},"axis":{"values":[-2,0,2,4,6]},"title":"Temperature [ °C]"}}},
{"data":{"name":"sander"},"mark":{"type":"point","shape":"M-1,-1L1,1M-1,1L1,-1","filled":false,"color":"red","strokeWidth":1.4,"size":64,"opacity":1},
 "encoding":{"x":{"field":"h","type":"quantitative","scale":{"domain":[1.5,34.5],"nice":false,"zero":false},"axis":{"values":[5,10,15,20,25,30]},"title":"UTC time [hours]"},
 "y":{"field":"T","type":"quantitative","scale":{"domain":[-2.88,7.68],"nice":false,"zero":false},"axis":{"values":[-2,0,2,4,6]},"title":"Temperature [ °C]"}}}
],
"config": {
 "view": {"stroke": "black", "strokeWidth": 1.1},
 "font": "DejaVu Sans",
 "legend": {"strokeWidth": 1},
 "axis": {"domain": false, "grid": false, "tickColor": "black", "tickSize": 5, "tickWidth": 1.1, "labelFont": "DejaVu Sans", "labelFontSize": 13.9, "labelColor": "black", "labelPadding": 5, "titleFont": "DejaVu Sans", "titleFontSize": 13.9, "titleFontWeight": "normal", "titleColor": "black", "labelFlush": false, "labelOverlap": false},
 "axisX": {"titlePadding": 6},
 "axisY": {"titlePadding": 9}
}
}
